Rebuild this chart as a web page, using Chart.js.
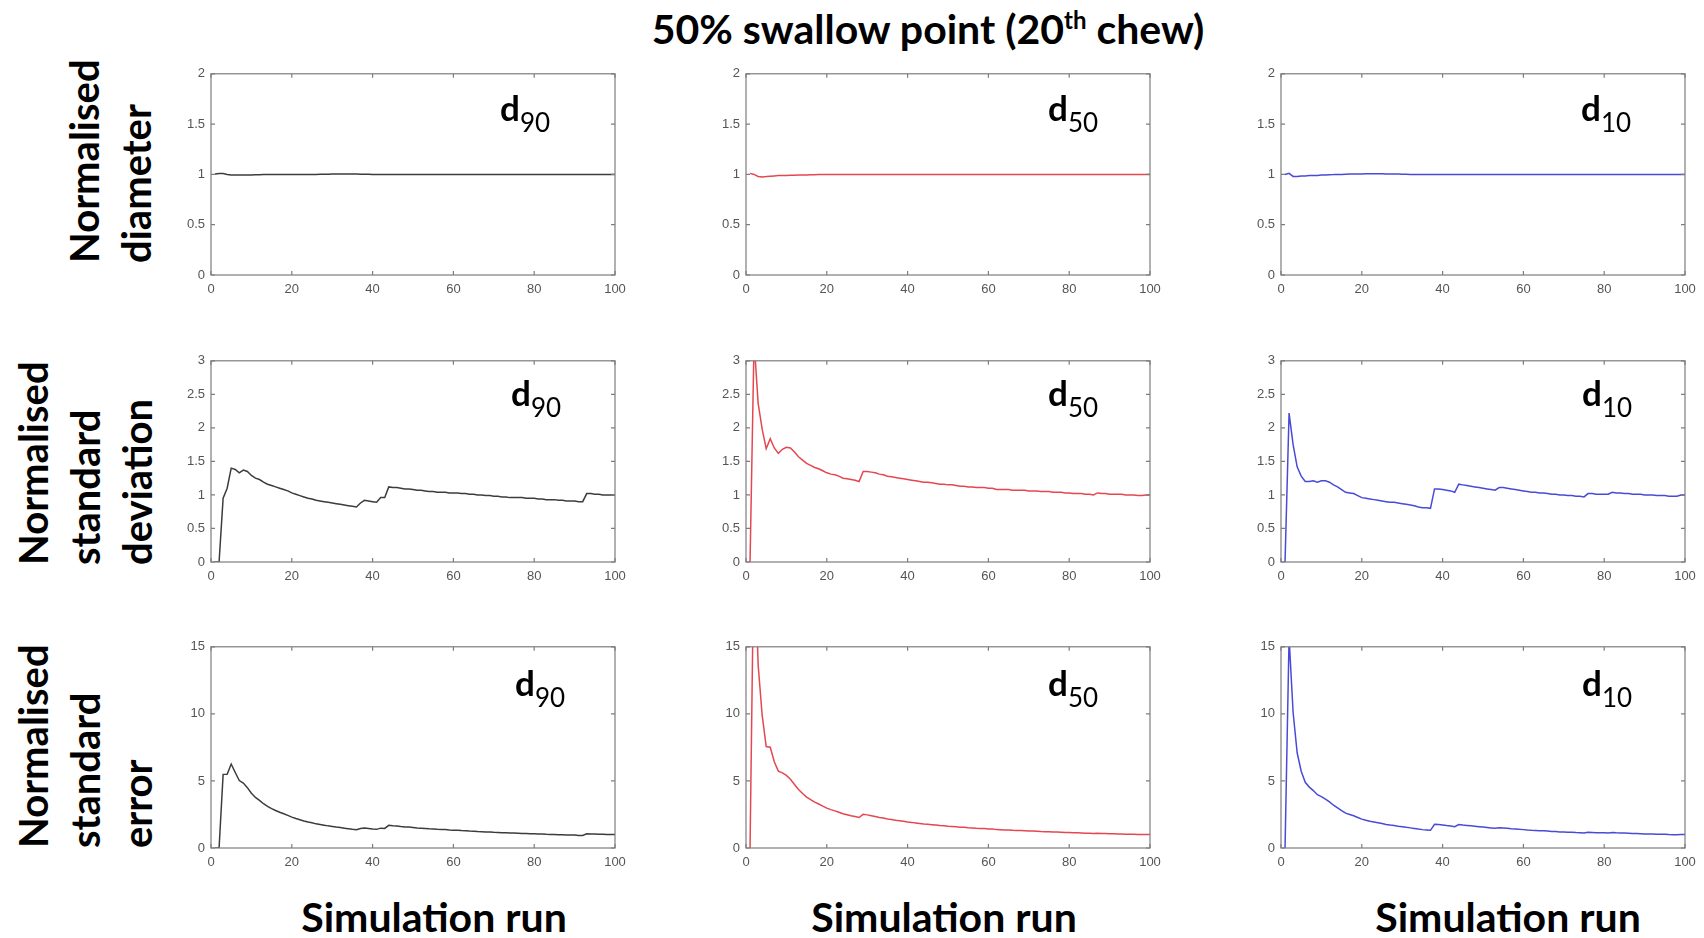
<!DOCTYPE html>
<html>
<head>
<meta charset="utf-8">
<script src="https://cdn.jsdelivr.net/npm/chart.js@4.4.1/dist/chart.umd.min.js"></script>
<style>
  body { margin: 0; background: #fff; }
  #page { position: relative; width: 1704px; height: 938px; overflow: hidden; font-family: Lato, "Open Sans", sans-serif; color: #000; }
  canvas { position: absolute; }
  .title { position: absolute; top: 4px; left: 928px; transform: translateX(-50%); font-size: 41px; font-weight: 700; line-height: 50px; white-space: pre; }
  .title span { position: relative; top: -15px; font-size: 24px; }
  .rowlab { position: absolute; font-size: 40px; font-weight: 700; line-height: 52px; white-space: pre; transform-origin: 0 0; transform: rotate(-90deg); }
  .xlab { position: absolute; top: 891px; font-size: 41px; font-weight: 700; line-height: 52px; white-space: pre; transform: translateX(-50%); }
  .dlab { position: absolute; font-size: 35px; font-weight: 700; line-height: 40px; white-space: pre; }
  .dlab span { position: relative; top: 11px; font-size: 26px; font-weight: 400; }
</style>
</head>
<body>
<div id="page">
  <div class="title">50% swallow point (20<span>th</span> chew)</div>
  <div class="rowlab" style="left:58px; top:263px;">Normalised
diameter</div>
  <div class="rowlab" style="left:7px; top:565px;">Normalised
standard
deviation</div>
  <div class="rowlab" style="left:7px; top:848px;">Normalised
standard
error</div>
  <div class="xlab" style="left:434px;">Simulation run</div>
  <div class="xlab" style="left:944px;">Simulation run</div>
  <div class="xlab" style="left:1508px;">Simulation run</div>
</div>
<script>
// run number 1..100 on the x axis
const runs = Array.from({ length: 100 }, (_, i) => i + 1);

const sizeNames = ["90", "50", "10"];
const lineColors = ["#3c3c3c", "#e4474f", "#4a4ad8"];

// normalised diameter
const diamD90 = [
  1.005, 1.01, 1.008, 1.0, 0.995, 0.995, 0.995, 0.995, 0.995, 0.995,
  0.996, 0.997, 0.998, 0.999, 1.0, 1.0, 1.0, 1.0, 1.0, 1.0,
  1.0, 1.0, 1.0, 1.0, 1.0, 1.0, 1.001, 1.002, 1.002, 1.003,
  1.003, 1.003, 1.003, 1.003, 1.003, 1.003, 1.002, 1.002, 1.001, 1.0,
  1.0, 1.0, 1.0, 1.0, 1.0, 1.0, 1.0, 1.0, 1.0, 1.0,
  1.0, 1.0, 1.0, 1.0, 1.0, 1.0, 1.0, 1.0, 1.0, 1.0,
  1.0, 1.0, 1.0, 1.0, 1.0, 1.0, 1.0, 1.0, 1.0, 1.0,
  1.0, 1.0, 1.0, 1.0, 1.0, 1.0, 1.0, 1.0, 1.0, 1.0,
  1.0, 1.0, 1.0, 1.0, 1.0, 1.0, 1.0, 1.0, 1.0, 1.0,
  1.0, 1.0, 1.0, 1.0, 1.0, 1.0, 1.0, 1.0, 1.0, 1.0
];
const diamD50 = [
  1.01, 1.0, 0.98, 0.975, 0.978, 0.982, 0.985, 0.988, 0.99, 0.99,
  0.991, 0.992, 0.993, 0.994, 0.995, 0.996, 0.997, 0.998, 0.998, 0.999,
  0.999, 1.0, 1.0, 1.0, 1.0, 1.0, 1.0, 1.0, 1.0, 1.0,
  1.0, 1.0, 1.0, 1.0, 1.0, 1.0, 1.0, 1.0, 1.0, 1.0,
  1.0, 1.0, 1.0, 1.0, 1.0, 1.0, 1.0, 1.0, 1.0, 1.0,
  1.0, 1.0, 1.0, 1.0, 1.0, 1.0, 1.0, 1.0, 1.0, 1.0,
  1.0, 1.0, 1.0, 1.0, 1.0, 1.0, 1.0, 1.0, 1.0, 1.0,
  1.0, 1.0, 1.0, 1.0, 1.0, 1.0, 1.0, 1.0, 1.0, 1.0,
  1.0, 1.0, 1.0, 1.0, 1.0, 1.0, 1.0, 1.0, 1.0, 1.0,
  1.0, 1.0, 1.0, 1.0, 1.0, 1.0, 1.0, 1.0, 1.0, 1.0
];
const diamD10 = [
  1.0, 1.01, 0.98, 0.98, 0.985, 0.985, 0.988, 0.99, 0.99, 0.993,
  0.995, 0.997, 0.998, 1.0, 1.0, 1.002, 1.003, 1.004, 1.005, 1.005,
  1.006, 1.006, 1.006, 1.006, 1.006, 1.005, 1.005, 1.004, 1.003, 1.002,
  1.001, 1.0, 1.0, 1.0, 1.0, 1.0, 1.0, 1.0, 1.0, 1.0,
  1.0, 1.0, 1.0, 1.0, 1.0, 1.0, 1.0, 1.0, 1.0, 1.0,
  1.0, 1.0, 1.0, 1.0, 1.0, 1.0, 1.0, 1.0, 1.0, 1.0,
  1.0, 1.0, 1.0, 1.0, 1.0, 1.0, 1.0, 1.0, 1.0, 1.0,
  1.0, 1.0, 1.0, 1.0, 1.0, 1.0, 1.0, 1.0, 1.0, 1.0,
  1.0, 1.0, 1.0, 1.0, 1.0, 1.0, 1.0, 1.0, 1.0, 1.0,
  1.0, 1.0, 1.0, 1.0, 1.0, 1.0, 1.0, 1.0, 1.0, 1.0
];

// normalised standard deviation
const sdD90 = [
  0, 0, 0.95, 1.1, 1.4, 1.38, 1.33, 1.37, 1.35, 1.29,
  1.25, 1.23, 1.19, 1.16, 1.14, 1.12, 1.1, 1.08, 1.06, 1.03,
  1.01, 0.99, 0.97, 0.95, 0.94, 0.92, 0.91, 0.9, 0.89, 0.88,
  0.87, 0.86, 0.85, 0.84, 0.83, 0.82, 0.88, 0.92, 0.91, 0.9,
  0.89, 0.96, 0.96, 1.12, 1.11, 1.11, 1.1, 1.09, 1.09, 1.08,
  1.07, 1.07, 1.06, 1.05, 1.05, 1.04, 1.04, 1.04, 1.03, 1.03,
  1.03, 1.02, 1.02, 1.01, 1.01, 1.0, 1.0, 0.99, 0.99, 0.98,
  0.98, 0.97, 0.97, 0.96, 0.96, 0.96, 0.96, 0.95, 0.95, 0.95,
  0.94, 0.94, 0.93, 0.93, 0.93, 0.92, 0.92, 0.91, 0.91, 0.91,
  0.9, 0.9, 1.02, 1.02, 1.01, 1.01, 1.0, 1.0, 1.0, 1.0
];
const sdD50 = [
  0, 3.3, 2.37, 1.98, 1.69, 1.84, 1.7, 1.62, 1.68, 1.71,
  1.7, 1.64, 1.57, 1.52, 1.47, 1.44, 1.41, 1.39, 1.36, 1.33,
  1.31, 1.3, 1.28, 1.25, 1.24, 1.23, 1.22, 1.2, 1.35, 1.35,
  1.34, 1.33, 1.31, 1.3, 1.28, 1.27, 1.26, 1.25, 1.24, 1.23,
  1.22, 1.21, 1.2, 1.19, 1.19, 1.18, 1.17, 1.16, 1.16, 1.15,
  1.15, 1.14, 1.13, 1.13, 1.12, 1.12, 1.11, 1.11, 1.11, 1.1,
  1.1, 1.08, 1.08, 1.08, 1.08, 1.07, 1.07, 1.07, 1.07, 1.06,
  1.06, 1.06, 1.05, 1.05, 1.05, 1.04, 1.04, 1.04, 1.03, 1.03,
  1.02, 1.02, 1.02, 1.01, 1.01, 1.0, 1.03, 1.02, 1.02, 1.01,
  1.01, 1.01, 1.01, 1.0, 1.0, 1.0, 0.99, 0.99, 1.0, 1.0
];
const sdD10 = [
  0, 2.22, 1.75, 1.42, 1.28, 1.2, 1.2, 1.21, 1.19, 1.21,
  1.21, 1.19, 1.15, 1.12, 1.08, 1.04, 1.03, 1.02, 0.99, 0.96,
  0.95, 0.94, 0.93, 0.92, 0.91, 0.9, 0.89, 0.89, 0.88, 0.87,
  0.86, 0.85, 0.84, 0.82, 0.81, 0.81, 0.8, 1.09, 1.09, 1.08,
  1.07, 1.06, 1.04, 1.16, 1.15, 1.14, 1.13, 1.12, 1.11, 1.1,
  1.09, 1.08, 1.07, 1.11, 1.11, 1.1, 1.09, 1.08, 1.07, 1.06,
  1.05, 1.04, 1.04, 1.03, 1.03, 1.02, 1.01, 1.01, 1.0, 1.0,
  0.99, 0.99, 0.98, 0.98, 0.97, 1.02, 1.02, 1.01, 1.01, 1.01,
  1.01, 1.04, 1.03, 1.03, 1.02, 1.02, 1.01, 1.01, 1.01, 1.0,
  1.0, 1.0, 0.99, 0.99, 0.99, 0.98, 0.98, 0.98, 1.0, 1.0
];

// normalised standard error
const seD90 = [
  0, 0, 5.49, 5.5, 6.26, 5.63, 5.03, 4.84, 4.5, 4.08,
  3.77, 3.55, 3.3, 3.1, 2.94, 2.8, 2.67, 2.55, 2.43, 2.3,
  2.2, 2.11, 2.02, 1.94, 1.88, 1.8, 1.75, 1.7, 1.65, 1.61,
  1.56, 1.52, 1.48, 1.44, 1.4, 1.37, 1.45, 1.49, 1.46, 1.42,
  1.39, 1.48, 1.46, 1.69, 1.66, 1.64, 1.6, 1.57, 1.56, 1.53,
  1.5, 1.48, 1.46, 1.43, 1.42, 1.39, 1.38, 1.37, 1.34, 1.33,
  1.32, 1.3, 1.29, 1.26, 1.25, 1.23, 1.22, 1.2, 1.19, 1.17,
  1.16, 1.14, 1.13, 1.12, 1.11, 1.1, 1.09, 1.08, 1.07, 1.06,
  1.04, 1.04, 1.02, 1.01, 1.01, 0.99, 0.99, 0.97, 0.96, 0.96,
  0.94, 0.94, 1.06, 1.05, 1.04, 1.03, 1.02, 1.01, 1.0, 1.0
];
const seD50 = [
  0, 23.33, 13.68, 9.9, 7.56, 7.51, 6.43, 5.73, 5.6, 5.41,
  5.13, 4.73, 4.36, 4.06, 3.8, 3.6, 3.42, 3.28, 3.12, 2.97,
  2.86, 2.77, 2.67, 2.55, 2.48, 2.41, 2.35, 2.27, 2.51, 2.47,
  2.41, 2.35, 2.28, 2.23, 2.16, 2.12, 2.07, 2.03, 1.99, 1.94,
  1.91, 1.87, 1.83, 1.79, 1.77, 1.74, 1.71, 1.67, 1.66, 1.63,
  1.61, 1.58, 1.55, 1.54, 1.51, 1.5, 1.47, 1.46, 1.45, 1.42,
  1.41, 1.37, 1.36, 1.35, 1.34, 1.32, 1.31, 1.3, 1.29, 1.27,
  1.26, 1.25, 1.23, 1.22, 1.21, 1.19, 1.19, 1.18, 1.16, 1.15,
  1.13, 1.13, 1.12, 1.1, 1.1, 1.08, 1.1, 1.09, 1.08, 1.06,
  1.06, 1.05, 1.05, 1.03, 1.03, 1.02, 1.0, 1.0, 1.0, 1.0
];
const seD10 = [
  0, 15.7, 10.1, 7.1, 5.72, 4.9, 4.54, 4.28, 3.97, 3.83,
  3.65, 3.44, 3.19, 2.99, 2.79, 2.6, 2.5, 2.4, 2.27, 2.15,
  2.07, 2.0, 1.94, 1.88, 1.82, 1.76, 1.71, 1.68, 1.63, 1.59,
  1.54, 1.5, 1.46, 1.41, 1.37, 1.35, 1.32, 1.77, 1.75, 1.71,
  1.67, 1.64, 1.59, 1.75, 1.71, 1.68, 1.65, 1.62, 1.59, 1.56,
  1.53, 1.5, 1.47, 1.51, 1.5, 1.47, 1.44, 1.42, 1.39, 1.37,
  1.34, 1.32, 1.31, 1.29, 1.28, 1.26, 1.23, 1.23, 1.2, 1.2,
  1.18, 1.17, 1.15, 1.14, 1.12, 1.17, 1.16, 1.14, 1.14, 1.13,
  1.12, 1.15, 1.13, 1.12, 1.11, 1.1, 1.08, 1.08, 1.07, 1.05,
  1.05, 1.04, 1.03, 1.02, 1.02, 1.0, 0.99, 0.99, 1.0, 1.0
];

const rowSeries = [
  [diamD90, diamD50, diamD10],
  [sdD90, sdD50, sdD10],
  [seD90, seD50, seD10]
];
const rowMax = [2, 3, 15];
const rowStep = [0.5, 0.5, 5];

// plot box geometry
const colLeft = [211, 746, 1281];
const rowTop = [70, 357, 643];
const plotW = 404, plotH = 205;
const padL = 50, padT = 10, padR = 20, padB = 30;
// where the d label sits (left of "d", baseline of "d")
const dLeft = [[500, 1048, 1581], [511, 1048, 1582], [515, 1048, 1582]];
const dBase = [120, 405, 695];

// MATLAB style box with inward ticks on all four sides
const boxPlugin = {
  id: "matlabBox",
  afterDatasetsDraw(chart) {
    const { ctx, chartArea: a, scales: { x, y } } = chart;
    ctx.save();
    ctx.strokeStyle = "#7d7d7d";
    ctx.lineWidth = 1.2;
    ctx.strokeRect(a.left, a.top, a.right - a.left, a.bottom - a.top);
    ctx.beginPath();
    x.ticks.forEach(t => {
      const px = x.getPixelForValue(t.value);
      ctx.moveTo(px, a.bottom); ctx.lineTo(px, a.bottom - 4);
      ctx.moveTo(px, a.top); ctx.lineTo(px, a.top + 4);
    });
    y.ticks.forEach(t => {
      const py = y.getPixelForValue(t.value);
      ctx.moveTo(a.left, py); ctx.lineTo(a.left + 4, py);
      ctx.moveTo(a.right, py); ctx.lineTo(a.right - 4, py);
    });
    ctx.stroke();
    ctx.restore();
  }
};

const page = document.getElementById("page");
const tickFont = { family: "'Liberation Sans', Arial, sans-serif", size: 13 };

for (let r = 0; r < 3; r++) {
  for (let c = 0; c < 3; c++) {
    const canvas = document.createElement("canvas");
    canvas.width = plotW + padL + padR;
    canvas.height = plotH + padT + padB;
    canvas.style.left = (colLeft[c] - padL) + "px";
    canvas.style.top = (rowTop[r] - padT) + "px";
    page.appendChild(canvas);

    new Chart(canvas, {
      type: "line",
      data: {
        labels: runs,
        datasets: [{
          data: rowSeries[r][c],
          borderColor: lineColors[c],
          borderWidth: 1.5,
          pointRadius: 0,
          tension: 0,
          fill: false
        }]
      },
      options: {
        responsive: false,
        animation: false,
        devicePixelRatio: 1,
        layout: { padding: { left: 0, top: padT, right: padR, bottom: 0 } },
        plugins: { legend: { display: false }, tooltip: { enabled: false } },
        scales: {
          x: {
            type: "linear", min: 0, max: 100,
            ticks: { stepSize: 20, font: tickFont, color: "#555", padding: 7, maxRotation: 0 },
            grid: { display: false, drawTicks: false },
            border: { display: false },
            afterFit: s => { s.height = padB; }
          },
          y: {
            min: 0, max: rowMax[r],
            ticks: { stepSize: rowStep[r], font: tickFont, color: "#555", padding: 6, callback: v => String(v) },
            grid: { display: false, drawTicks: false },
            border: { display: false },
            afterFit: s => { s.width = padL; }
          }
        }
      },
      plugins: [boxPlugin]
    });

    const d = document.createElement("div");
    d.className = "dlab";
    d.style.left = dLeft[r][c] + "px";
    d.style.top = (dBase[r] - 33) + "px";
    d.innerHTML = "d<span>" + sizeNames[c] + "</span>";
    page.appendChild(d);
  }
}
</script>
</body>
</html>
